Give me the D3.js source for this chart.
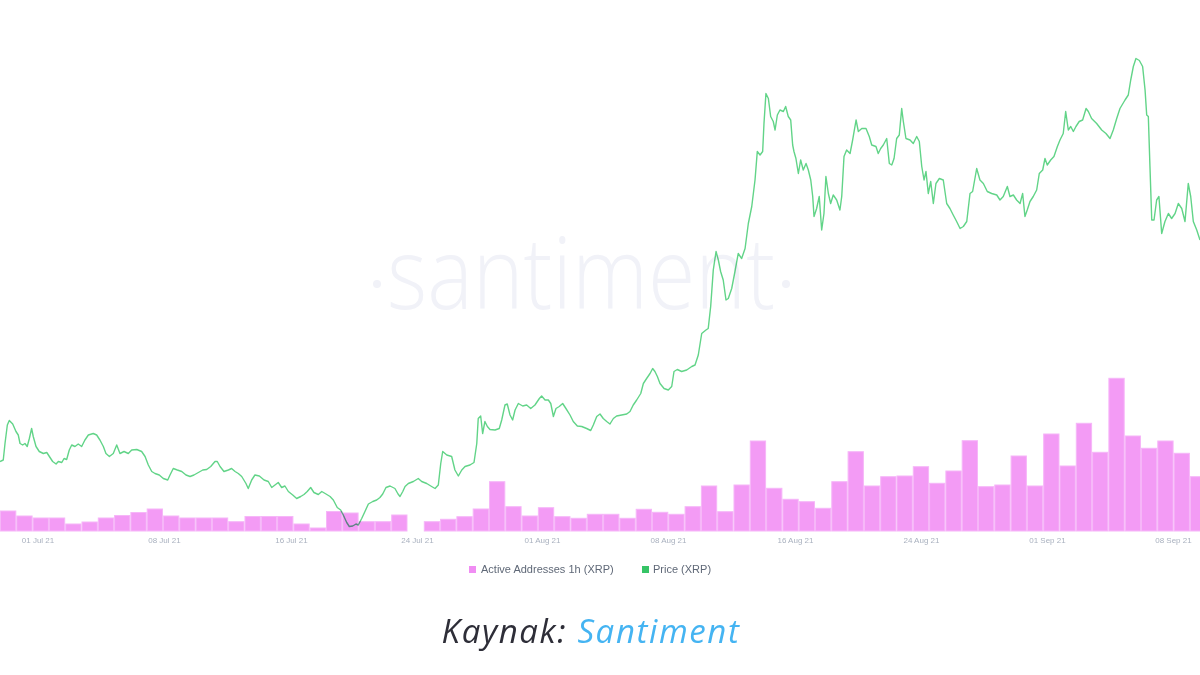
<!DOCTYPE html>
<html>
<head>
<meta charset="utf-8">
<script src="https://cdn.jsdelivr.net/npm/d3@7"></script>
<style>
  html, body { margin: 0; padding: 0; background: #ffffff; }
  svg { display: block; }
</style>
</head>
<body>
<svg id="chart" width="1200" height="675"></svg>
<script>
// ---------------- DATA ----------------
// Daily active addresses (bar index 0 = first visible day)
const barValues = [2000,1500,1300,1300,700,900,1300,1550,1850,2200,1500,1300,1300,1300,930,1450,1450,1450,700,300,
  1950,1800,930,930,1600,0,930,1170,1430,2200,4930,2430,1500,2330,1430,1270,1670,1670,1270,2170,
  1870,1670,2430,4500,1930,4600,9000,4270,3170,2930,2270,4930,7930,4500,5430,5500,6430,4770,6000,9030,
  4430,4600,7500,4500,9700,6500,10770,7870,15270,9500,8270,9000,7770,5430];

// X-axis tick labels and their positions (in days from first bar)
const tickLabels = ["01 Jul 21","08 Jul 21","16 Jul 21","24 Jul 21","01 Aug 21","08 Aug 21","16 Aug 21","24 Aug 21","01 Sep 21","08 Sep 21"];
const tickDays = [2.3, 10.06, 17.85, 25.58, 33.25, 40.98, 48.77, 56.5, 64.23, 71.96];

// Price (XRP) line: time in days, price in USD
const lineDays = [0.00,0.20,0.31,0.45,0.57,0.78,0.98,1.12,1.23,1.39,1.53,1.67,1.80,1.94,2.04,2.21,2.41,2.66,2.87,3.07,
  3.23,3.44,3.58,3.79,3.93,4.09,4.25,4.40,4.60,4.80,5.01,5.21,5.42,5.72,5.93,6.13,6.34,6.50,6.71,6.95,
  7.16,7.36,7.61,7.87,8.08,8.39,8.69,8.90,9.10,9.31,9.51,9.77,10.02,10.29,10.43,10.63,10.88,11.15,11.41,11.66,
  11.90,12.17,12.44,12.68,12.93,13.19,13.33,13.50,13.74,14.01,14.21,14.42,14.62,14.83,15.09,15.23,15.44,15.64,15.91,16.20,
  16.46,16.67,16.87,17.07,17.28,17.48,17.69,17.96,18.20,18.45,18.65,18.85,19.06,19.26,19.53,19.74,20.00,20.25,20.45,20.69,
  20.90,21.06,21.27,21.43,21.64,21.84,21.98,22.19,22.39,22.60,22.87,23.11,23.31,23.48,23.68,23.93,24.23,24.42,24.54,24.71,
  24.85,25.05,25.36,25.66,25.87,26.18,26.48,26.69,26.89,27.04,27.16,27.41,27.71,27.91,28.12,28.33,28.53,28.83,29.08,29.25,
  29.34,29.49,29.61,29.75,29.90,30.06,30.37,30.63,30.78,30.98,31.12,31.29,31.45,31.60,31.80,32.07,32.31,32.56,32.82,33.09,
  33.23,33.44,33.64,33.79,33.95,34.11,34.31,34.52,34.72,34.97,35.17,35.42,35.69,35.99,36.24,36.40,36.61,36.81,37.01,37.22,
  37.42,37.63,37.83,38.14,38.45,38.65,38.85,39.06,39.31,39.47,39.67,39.88,40.04,40.18,40.33,40.49,40.74,41.00,41.21,41.35,
  41.55,41.82,42.13,42.44,42.64,42.84,43.05,43.31,43.45,43.60,43.76,43.93,44.07,44.21,44.37,44.54,44.68,44.89,45.09,45.29,
  45.50,45.71,45.91,46.12,46.32,46.46,46.63,46.79,46.87,46.99,47.14,47.28,47.44,47.55,47.69,47.85,48.06,48.20,48.36,48.51,
  48.63,48.71,48.83,48.98,49.12,49.28,49.45,49.59,49.74,49.86,49.94,50.10,50.26,50.41,50.55,50.67,50.82,50.96,51.12,51.33,
  51.53,51.64,51.78,51.94,52.15,52.31,52.52,52.66,52.87,53.13,53.33,53.48,53.74,53.88,54.03,54.19,54.40,54.56,54.71,54.85,
  55.01,55.17,55.32,55.42,55.58,55.83,56.03,56.24,56.40,56.55,56.69,56.81,56.95,57.10,57.26,57.42,57.63,57.87,58.08,58.28,
  58.48,58.69,58.90,59.10,59.31,59.51,59.67,59.92,60.12,60.33,60.57,60.84,61.15,61.35,61.55,61.80,61.96,62.17,62.37,62.58,
  62.74,62.88,63.02,63.19,63.39,63.60,63.76,63.97,64.11,64.25,64.46,64.66,64.87,65.03,65.23,65.38,65.54,65.69,65.85,66.01,
  66.21,66.42,66.63,66.77,66.97,67.28,67.59,67.85,68.10,68.30,68.51,68.71,69.02,69.22,69.37,69.53,69.69,69.90,70.10,70.25,
  70.35,70.45,70.55,70.66,70.80,70.96,71.10,71.27,71.47,71.68,71.88,72.09,72.29,72.50,72.70,72.90,73.05,73.21,73.42,73.62];
const linePrices = [0.641,0.644,0.678,0.714,0.723,0.716,0.701,0.694,0.677,0.674,0.677,0.671,0.687,0.707,0.691,0.671,0.661,0.657,0.659,0.649,
  0.641,0.636,0.641,0.639,0.647,0.645,0.664,0.674,0.671,0.676,0.671,0.684,0.694,0.697,0.694,0.684,0.671,0.657,0.651,0.657,
  0.674,0.657,0.661,0.657,0.664,0.665,0.661,0.651,0.634,0.621,0.617,0.614,0.607,0.604,0.614,0.627,0.624,0.621,0.614,0.611,
  0.614,0.619,0.624,0.625,0.631,0.641,0.641,0.631,0.621,0.624,0.627,0.621,0.617,0.611,0.597,0.587,0.604,0.614,0.612,0.604,
  0.601,0.589,0.594,0.599,0.589,0.592,0.581,0.574,0.567,0.571,0.575,0.581,0.589,0.579,0.575,0.581,0.576,0.571,0.564,0.549,
  0.544,0.534,0.519,0.511,0.512,0.516,0.514,0.527,0.541,0.556,0.561,0.564,0.569,0.576,0.589,0.592,0.587,0.576,0.571,0.581,
  0.591,0.597,0.601,0.607,0.601,0.597,0.591,0.587,0.594,0.637,0.661,0.654,0.651,0.624,0.612,0.624,0.631,0.634,0.639,0.677,
  0.727,0.732,0.697,0.721,0.711,0.705,0.704,0.707,0.724,0.754,0.756,0.734,0.724,0.744,0.757,0.752,0.754,0.747,0.754,0.767,
  0.772,0.764,0.764,0.757,0.731,0.747,0.751,0.757,0.747,0.734,0.721,0.712,0.711,0.707,0.703,0.714,0.731,0.736,0.727,0.721,
  0.716,0.727,0.732,0.734,0.736,0.741,0.754,0.764,0.777,0.797,0.807,0.817,0.827,0.821,0.811,0.797,0.787,0.784,0.791,0.821,
  0.825,0.821,0.824,0.831,0.834,0.854,0.897,0.904,0.907,0.951,1.024,1.061,1.044,1.021,1.004,0.964,0.967,0.987,1.021,1.057,
  1.047,1.067,1.117,1.151,1.204,1.261,1.254,1.261,1.317,1.377,1.367,1.331,1.321,1.304,1.334,1.344,1.341,1.351,1.331,1.324,
  1.274,1.261,1.247,1.217,1.244,1.224,1.237,1.224,1.204,1.171,1.131,1.147,1.171,1.104,1.137,1.211,1.177,1.157,1.174,1.164,
  1.144,1.171,1.251,1.264,1.257,1.284,1.324,1.301,1.307,1.307,1.291,1.274,1.271,1.257,1.267,1.274,1.287,1.237,1.234,1.247,
  1.287,1.294,1.347,1.321,1.287,1.284,1.277,1.291,1.281,1.231,1.204,1.221,1.177,1.201,1.157,1.197,1.207,1.204,1.157,1.147,
  1.134,1.121,1.107,1.111,1.121,1.177,1.181,1.227,1.204,1.197,1.181,1.177,1.174,1.164,1.171,1.191,1.171,1.174,1.164,1.157,
  1.177,1.131,1.144,1.161,1.171,1.184,1.217,1.224,1.247,1.234,1.244,1.251,1.271,1.284,1.297,1.341,1.304,1.311,1.301,1.311,
  1.321,1.324,1.347,1.341,1.327,1.317,1.304,1.297,1.287,1.304,1.327,1.347,1.364,1.374,1.404,1.431,1.447,1.443,1.431,1.384,
  1.334,1.331,1.231,1.124,1.124,1.164,1.171,1.097,1.121,1.137,1.127,1.137,1.157,1.147,1.121,1.197,1.171,1.121,1.104,1.084];

const legendItems = ["Active Addresses 1h (XRP)", "Price (XRP)"];

// ---------------- DRAW ----------------
const svg = d3.select("#chart");
const W = 1200;

const x = d3.scaleLinear().domain([0, 73.62]).range([0, W]);
const yBar = d3.scaleLinear().domain([0, 30000]).range([531, 231]);
const yPrice = d3.scaleLinear().domain([0.4, 1.5]).range([582, 32]);

// watermark
const wm = svg.append("g").attr("fill", "#f1f2f8");
wm.append("text")
  .attr("x", 581).attr("y", 309)
  .attr("text-anchor", "middle")
  .attr("font-family", "Open Sans, sans-serif")
  .attr("font-weight", 300)
  .attr("font-size", 100)
  .attr("textLength", 388)
  .attr("lengthAdjust", "spacingAndGlyphs")
  .text("santiment");
wm.append("circle").attr("cx", 377).attr("cy", 284).attr("r", 4);
wm.append("circle").attr("cx", 786).attr("cy", 284).attr("r", 4);

// bars
svg.append("g")
  .selectAll("rect")
  .data(barValues)
  .join("rect")
  .attr("x", (d, i) => x(i) + 0.5)
  .attr("width", (d, i) => x(i + 1) - x(i) - 1)
  .attr("y", d => yBar(d))
  .attr("height", d => yBar(0) - yBar(d))
  .attr("fill", "#f39bf5")
  .attr("stroke", "#f6b6f8")
  .attr("stroke-width", 1);

// price line
const pts = lineDays.map((d, i) => [d, linePrices[i]]);
svg.append("path")
  .datum(pts)
  .attr("fill", "none")
  .attr("stroke", "#62d488")
  .attr("stroke-width", 1.4)
  .attr("stroke-linejoin", "round")
  .style("mix-blend-mode", "multiply")
  .attr("d", d3.line().x(d => x(d[0])).y(d => yPrice(d[1])));

// x axis
const axis = svg.append("g")
  .attr("transform", "translate(0,531)")
  .call(d3.axisBottom(x).tickValues(tickDays).tickFormat((d, i) => tickLabels[i]).tickSize(0).tickPadding(6));
axis.select(".domain").remove();
axis.selectAll("text")
  .attr("fill", "#a9b1bf")
  .attr("font-family", "Liberation Sans, Arial, sans-serif")
  .attr("font-size", 8);

// legend
const lg = svg.append("g").attr("font-family", "Liberation Sans, Arial, sans-serif").attr("font-size", 11).attr("fill", "#5f6877");
lg.append("rect").attr("x", 469).attr("y", 566).attr("width", 7).attr("height", 7).attr("fill", "#f08df3");
lg.append("text").attr("x", 481).attr("y", 573).text(legendItems[0]);
lg.append("rect").attr("x", 642).attr("y", 566).attr("width", 7).attr("height", 7).attr("fill", "#36c466");
lg.append("text").attr("x", 653).attr("y", 573).text(legendItems[1]);

// caption
const cap = svg.append("text")
  .attr("x", 591).attr("y", 643)
  .attr("text-anchor", "middle")
  .attr("font-family", "Open Sans, sans-serif")
  .attr("font-style", "italic")
  .attr("font-size", 33)
  .attr("letter-spacing", 1.6);
cap.append("tspan").attr("fill", "#2e2e38").text("Kaynak: ");
cap.append("tspan").attr("fill", "#45b4f2").text("Santiment");
</script>
</body>
</html>
